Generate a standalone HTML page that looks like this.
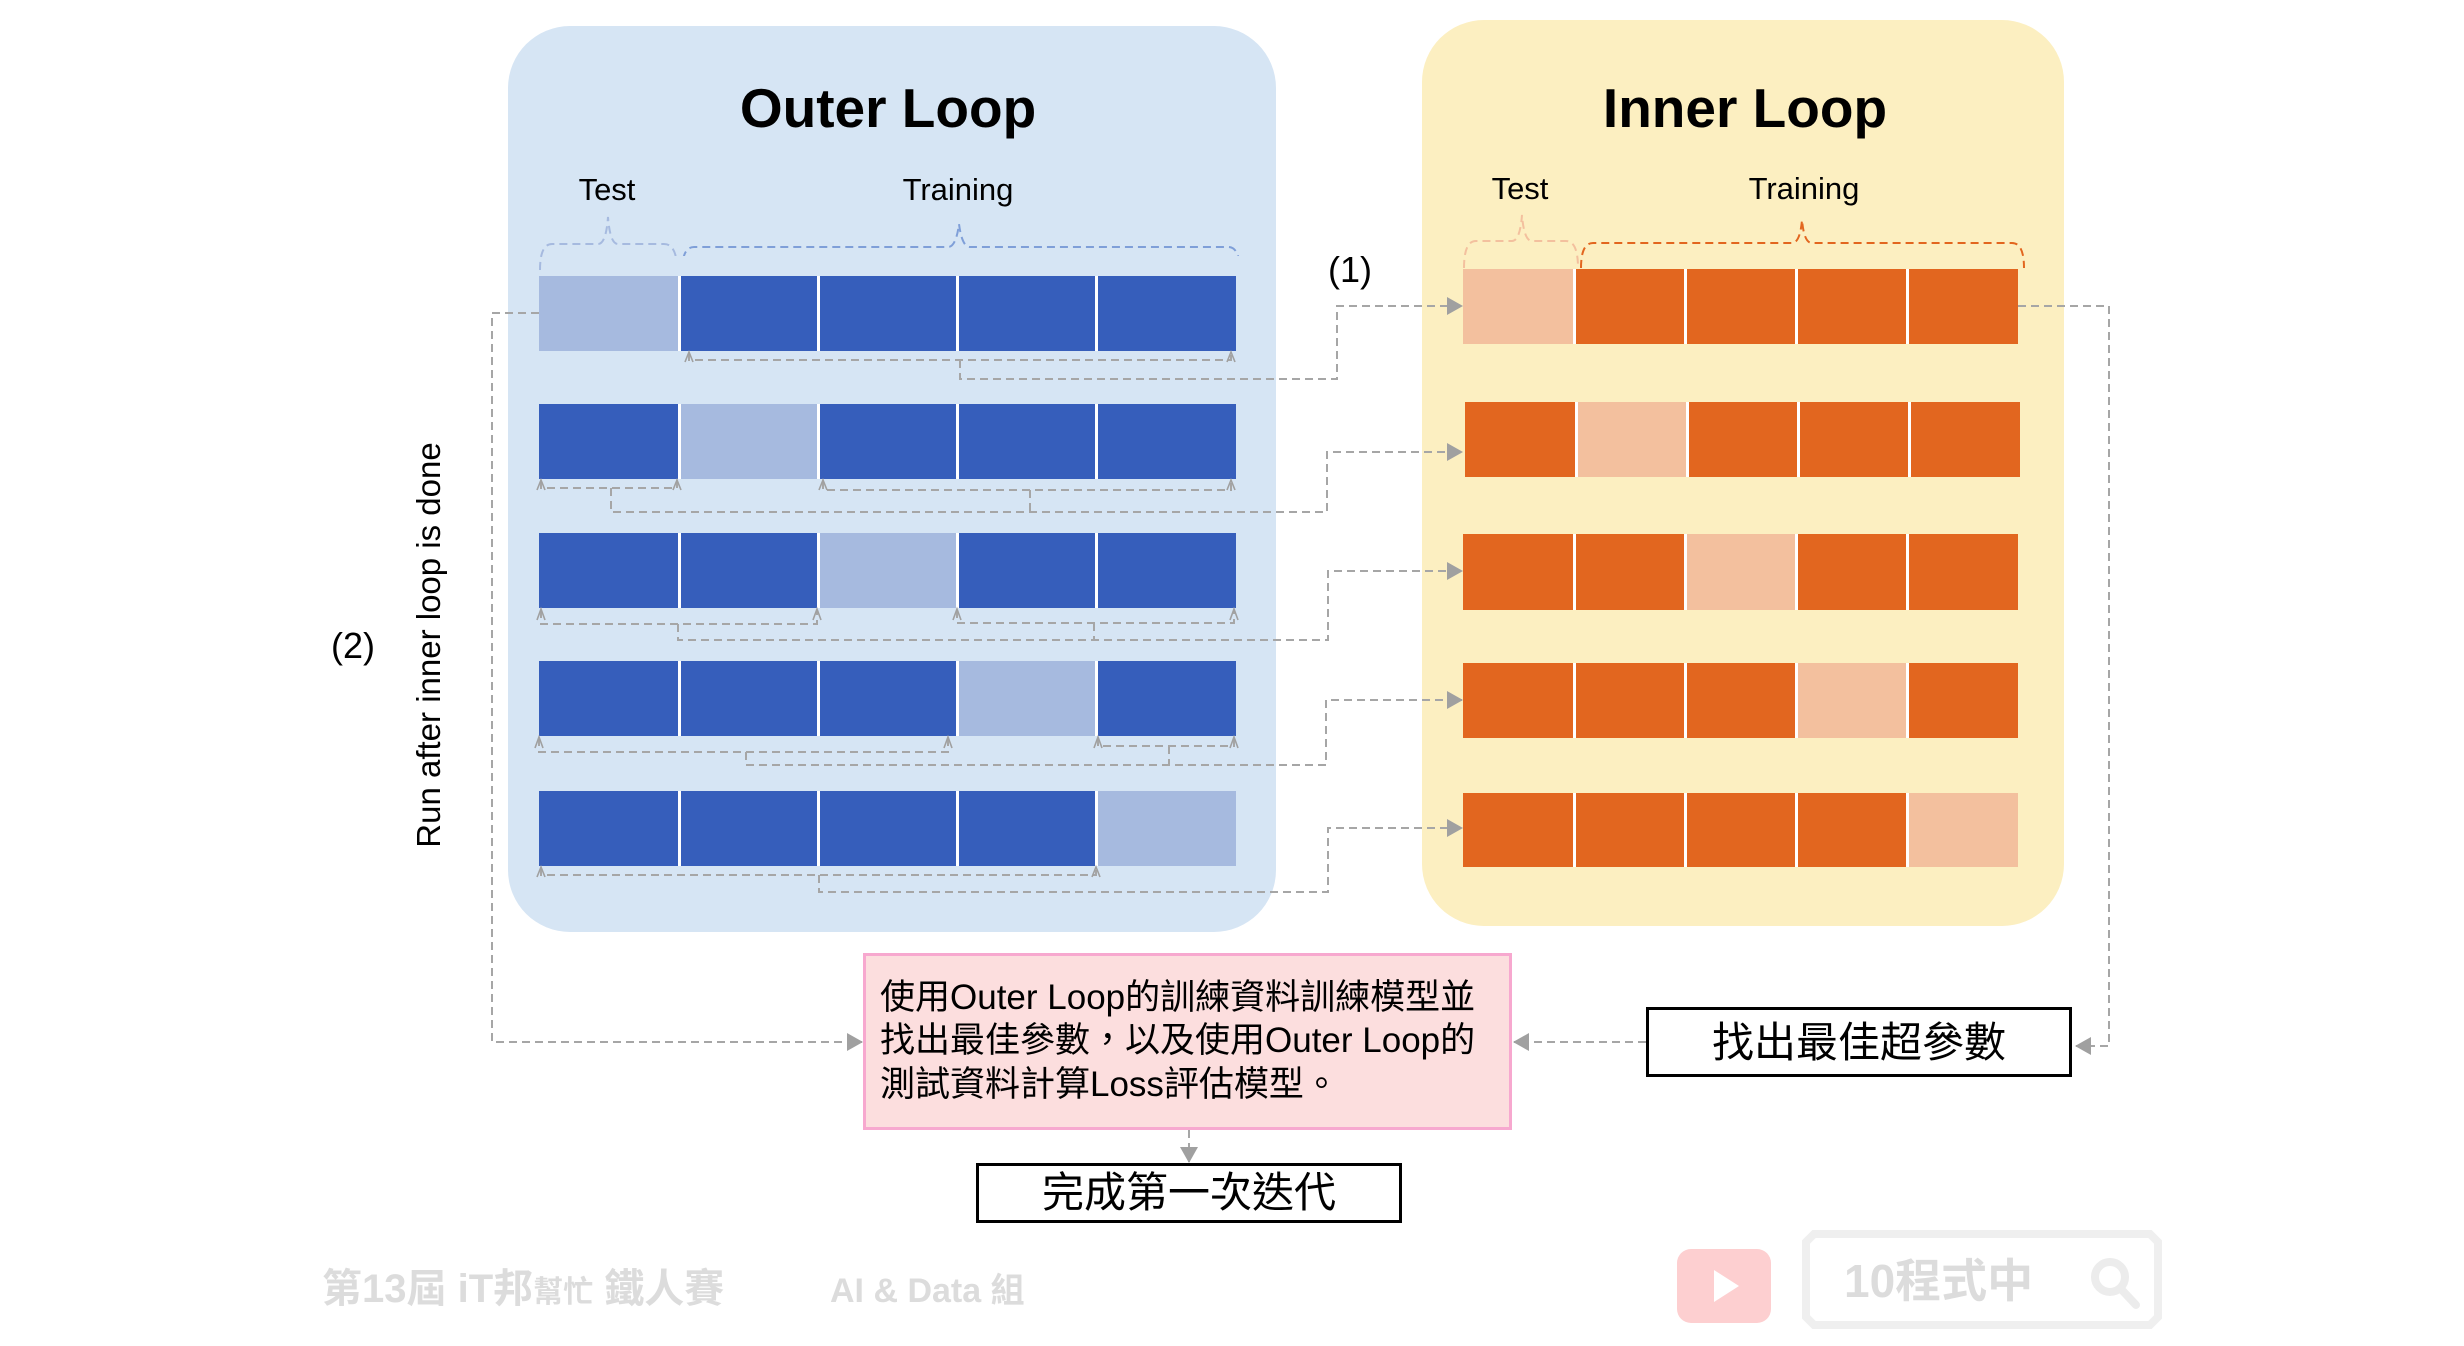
<!DOCTYPE html>
<html><head><meta charset="utf-8"><style>
html,body{margin:0;padding:0;background:#fff;}
svg{display:block;}
text{font-family:"Liberation Sans","Noto Sans CJK TC",sans-serif;}
</style></head><body>
<svg width="2464" height="1346" viewBox="0 0 2464 1346" xmlns="http://www.w3.org/2000/svg">
<defs>
<marker id="ahb" markerWidth="16" markerHeight="18" refX="15" refY="9" orient="auto" markerUnits="userSpaceOnUse">
<path d="M0,0 L16,9 L0,18 z" fill="#a0a0a0"/></marker>
</defs>

<rect x="508" y="26" width="768" height="906" rx="62" fill="#d6e5f4"/>
<rect x="1422" y="20" width="642" height="906" rx="62" fill="#fcefc1"/>

<text x="888" y="127" font-size="55" font-weight="bold" text-anchor="middle">Outer Loop</text>
<text x="1745" y="127" font-size="55" font-weight="bold" text-anchor="middle">Inner Loop</text>
<text x="607" y="200" font-size="31" text-anchor="middle">Test</text>
<text x="958" y="200" font-size="31" text-anchor="middle">Training</text>
<text x="1520" y="199" font-size="31" text-anchor="middle">Test</text>
<text x="1804" y="199" font-size="31" text-anchor="middle">Training</text>
<text x="1350" y="282" font-size="36" text-anchor="middle">(1)</text>
<text x="353" y="658" font-size="36" text-anchor="middle">(2)</text>
<text transform="translate(440,645) rotate(-90)" font-size="33" text-anchor="middle">Run after inner loop is done</text>

<g fill="none" stroke-width="2" stroke-dasharray="8,5">
<path d="M540,270 Q540,244 552,244 L598,244 Q606,244 608,217 Q610,244 618,244 L664,244 Q677,244 677,270" stroke="#a6badf"/>
<path d="M682,272 Q682,247 694,247 L948,247 Q956,247 959,224 Q962,247 970,247 L1228,247 Q1240,247 1240,272" stroke="#7f9fd8"/>
<path d="M1464,268 Q1464,241 1476,241 L1512,241 Q1520,241 1522,215 Q1524,241 1532,241 L1566,241 Q1578,241 1578,268" stroke="#f3c09e"/>
<path d="M1581,268 Q1581,243 1593,243 L1792,243 Q1800,243 1802,220 Q1804,243 1812,243 L2012,243 Q2024,243 2024,268" stroke="#e2661f"/>
</g>

<g>
<rect x="539" y="276" width="697" height="75" fill="#365ebb"/>
<rect x="539" y="276" width="139" height="75" fill="#a6badf"/>
<rect x="539" y="404" width="697" height="75" fill="#365ebb"/>
<rect x="680" y="404" width="137" height="75" fill="#a6badf"/>
<rect x="539" y="533" width="697" height="75" fill="#365ebb"/>
<rect x="819" y="533" width="137" height="75" fill="#a6badf"/>
<rect x="539" y="661" width="697" height="75" fill="#365ebb"/>
<rect x="958" y="661" width="137" height="75" fill="#a6badf"/>
<rect x="539" y="791" width="697" height="75" fill="#365ebb"/>
<rect x="1097" y="791" width="139" height="75" fill="#a6badf"/>
<g fill="#fff">
<rect x="678" y="270" width="3" height="600"/><rect x="817" y="270" width="3" height="600"/>
<rect x="956" y="270" width="3" height="600"/><rect x="1095" y="270" width="3" height="600"/>
</g>
</g>
<g fill="#d6e5f4">
<rect x="660" y="351" width="600" height="53"/><rect x="660" y="479" width="600" height="54"/>
<rect x="660" y="608" width="600" height="53"/><rect x="660" y="736" width="600" height="55"/>
<rect x="660" y="866" width="600" height="10"/><rect x="660" y="256" width="600" height="20"/>
</g>

<g>
<rect x="1463" y="269" width="555" height="75" fill="#e2661f"/>
<rect x="1463" y="269" width="111" height="75" fill="#f3c09e"/>
<rect x="1465" y="402" width="555" height="75" fill="#e2661f"/>
<rect x="1576" y="402" width="111" height="75" fill="#f3c09e"/>
<rect x="1463" y="534" width="555" height="76" fill="#e2661f"/>
<rect x="1685" y="534" width="111" height="76" fill="#f3c09e"/>
<rect x="1463" y="663" width="555" height="75" fill="#e2661f"/>
<rect x="1796" y="663" width="111" height="75" fill="#f3c09e"/>
<rect x="1463" y="793" width="555" height="74" fill="#e2661f"/>
<rect x="1907" y="793" width="111" height="74" fill="#f3c09e"/>
</g>
<g fill="#fff">
<rect x="1573" y="269" width="3" height="75"/><rect x="1684" y="269" width="3" height="75"/><rect x="1795" y="269" width="3" height="75"/><rect x="1906" y="269" width="3" height="75"/>
<rect x="1575" y="402" width="3" height="75"/><rect x="1686" y="402" width="3" height="75"/><rect x="1797" y="402" width="3" height="75"/><rect x="1908" y="402" width="3" height="75"/>
<rect x="1573" y="534" width="3" height="76"/><rect x="1684" y="534" width="3" height="76"/><rect x="1795" y="534" width="3" height="76"/><rect x="1906" y="534" width="3" height="76"/>
<rect x="1573" y="663" width="3" height="75"/><rect x="1684" y="663" width="3" height="75"/><rect x="1795" y="663" width="3" height="75"/><rect x="1906" y="663" width="3" height="75"/>
<rect x="1573" y="793" width="3" height="74"/><rect x="1684" y="793" width="3" height="74"/><rect x="1795" y="793" width="3" height="74"/><rect x="1906" y="793" width="3" height="74"/>
</g>

<g fill="none" stroke="#a6a6a6" stroke-width="2" stroke-dasharray="8,5">
<path d="M689,353 L689,360 L1231,360 L1231,353"/>
<path d="M960,360 L960,379 L1337,379 L1337,306 L1462,306" marker-end="url(#ahb)"/>
<path d="M541,481 L541,488 L677,488 L677,481"/>
<path d="M823,481 L823,490 L1231,490 L1231,481"/>
<path d="M611,488 L611,512 L1327,512 L1327,452 L1462,452" marker-end="url(#ahb)"/>
<path d="M1030,490 L1030,512"/>
<path d="M541,610 L541,624 L817,624 L817,610"/>
<path d="M957,610 L957,623 L1234,623 L1234,610"/>
<path d="M678,624 L678,640 L1328,640 L1328,571 L1462,571" marker-end="url(#ahb)"/>
<path d="M1094,623 L1094,640"/>
<path d="M539,738 L539,752 L948,752 L948,738"/>
<path d="M1098,738 L1098,746 L1234,746 L1234,738"/>
<path d="M746,752 L746,765 L1326,765 L1326,700 L1462,700" marker-end="url(#ahb)"/>
<path d="M1169,746 L1169,765"/>
<path d="M541,868 L541,875 L1096,875 L1096,868"/>
<path d="M819,875 L819,892 L1328,892 L1328,828 L1462,828" marker-end="url(#ahb)"/>
<path d="M539,313 L492,313 L492,1042 L862,1042" marker-end="url(#ahb)"/>
<path d="M2018,306 L2109,306 L2109,1046 L2076,1046" marker-end="url(#ahb)"/>
<path d="M1646,1042 L1514,1042" marker-end="url(#ahb)"/>
<path d="M1189,1130 L1189,1162" marker-end="url(#ahb)"/>
</g>
<g stroke="#a0a0a0" stroke-width="1.6" fill="none">
<path d="M685,362 L689,352 L693,362 M1227,362 L1231,352 L1235,362"/>
<path d="M537,490 L541,480 L545,490 M673,490 L677,480 L681,490 M819,490 L823,480 L827,490 M1227,490 L1231,480 L1235,490"/>
<path d="M537,620 L541,609 L545,620 M813,620 L817,609 L821,620 M953,620 L957,609 L961,620 M1230,620 L1234,609 L1238,620"/>
<path d="M535,748 L539,737 L543,748 M944,748 L948,737 L952,748 M1094,748 L1098,737 L1102,748 M1230,748 L1234,737 L1238,748"/>
<path d="M537,877 L541,867 L545,877 M1092,877 L1096,867 L1100,877"/>
</g>

<rect x="864.5" y="954.5" width="646" height="174" fill="#fcdede" stroke="#f7a8cf" stroke-width="3"/>
<g font-size="35">
<text x="880" y="1009">使用Outer Loop的訓練資料訓練模型並</text>
<text x="880" y="1052">找出最佳參數，以及使用Outer Loop的</text>
<text x="880" y="1096">測試資料計算Loss評估模型。</text>
</g>
<rect x="1647.5" y="1008.5" width="423" height="67" fill="#fff" stroke="#000" stroke-width="3"/>
<text x="1859" y="1057" font-size="42" text-anchor="middle">找出最佳超參數</text>
<rect x="977.5" y="1164.5" width="423" height="57" fill="#fff" stroke="#000" stroke-width="3"/>
<text x="1189" y="1207" font-size="42" text-anchor="middle">完成第一次迭代</text>

<g fill="#dcdcdc" font-weight="bold">
<text x="322" y="1302" font-size="40">第13屆 iT邦<tspan font-size="30">幫忙</tspan> 鐵人賽</text>
<text x="830" y="1302" font-size="34">AI &amp; Data 組</text>
<text x="1844" y="1297" font-size="46">10程式中</text>
</g>
<rect x="1677" y="1249" width="94" height="74" rx="14" fill="#fdcfd0"/>
<path d="M1714,1270 L1739,1286 L1714,1302 z" fill="#fff"/>
<path d="M1806,1242 L1814,1234 L2150,1234 L2158,1242 L2158,1317 L2150,1325 L1814,1325 L1806,1317 z" fill="none" stroke="#efefef" stroke-width="8"/>
<circle cx="2110" cy="1277" r="15" fill="none" stroke="#ececec" stroke-width="8"/>
<path d="M2121,1289 L2136,1305" stroke="#ececec" stroke-width="8" stroke-linecap="round"/>
</svg>
</body></html>
